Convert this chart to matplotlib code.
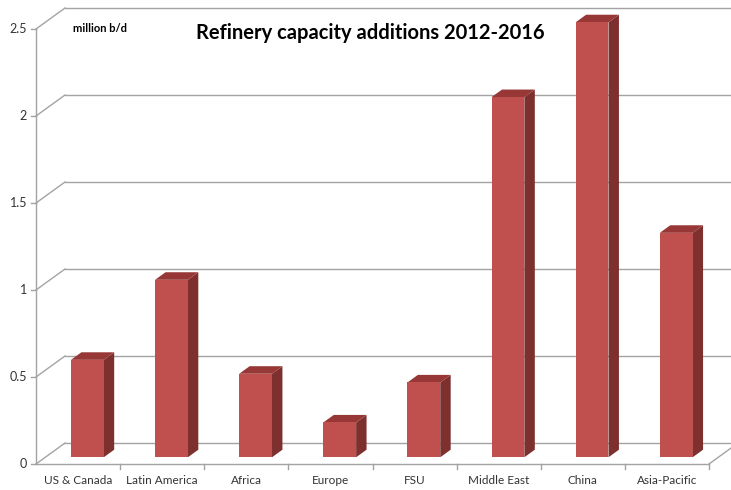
import numpy as np
import matplotlib
matplotlib.use('Agg')
import matplotlib.pyplot as plt
from matplotlib.patches import Polygon

regions = ['US & Canada', 'Latin America', 'Africa', 'Europe', 'FSU',
           'Middle East', 'China', 'Asia-Pacific']
capacity = [0.56, 1.02, 0.48, 0.20, 0.43, 2.07, 2.50, 1.29]
yticks = [0, 0.5, 1, 1.5, 2, 2.5]
ytick_labels = ['0', '0.5', '1', '1.5', '2', '2.5']

plt.rcParams['font.family'] = ['Lato', 'DejaVu Sans']

W, H = 731, 490
fig = plt.figure(figsize=(W / 100, H / 100), dpi=100)
ax_left, ax_right, ax_top, ax_bot = 36, 709, 29, 464
ax = fig.add_axes([ax_left / W, 1 - ax_bot / H, (ax_right - ax_left) / W, (ax_bot - ax_top) / H])
n = len(regions)
ax.set_xlim(0, n)
ax.set_ylim(0, 2.5)
ax.axis('off')

# depth offset of the back wall, in data units
px_x = n / (ax_right - ax_left)
px_y = 2.5 / (ax_bot - ax_top)
DX, DY = 29 * px_x, 21 * px_y

grid_col = '#a3a3a3'
lw = 1.0

# back wall gridlines and left diagonals
for v, lab in zip(yticks, ytick_labels):
    ax.plot([DX, n + DX + 1], [v + DY, v + DY], color=grid_col, lw=lw, clip_on=False)
    ax.plot([0, DX], [v, v + DY], color=grid_col, lw=lw, clip_on=False)
    ax.plot([-5 * px_x, 0], [v, v], color=grid_col, lw=lw, clip_on=False)
    ax.text(-9 * px_x, v, lab, ha='right', va='center', fontsize=9, color='#333333')

# front axis and floor
ax.plot([0, 0], [0, 2.5], color=grid_col, lw=lw, clip_on=False)
ax.plot([0, n], [0, 0], color=grid_col, lw=lw, clip_on=False)
ax.plot([n, n + DX], [0, DY], color=grid_col, lw=lw, clip_on=False)
for i in range(1, n + 1):
    ax.plot([i, i], [0, -5 * px_y], color=grid_col, lw=lw, clip_on=False)

# 3d bars
front_col, side_col, top_col = '#c0504d', '#7d302e', '#973836'
d0, d1 = 0.32, 0.68
bw = 0.39
for i, v in enumerate(capacity):
    x0 = i + 0.5 - bw / 2 + d0 * DX
    x1 = x0 + bw
    y0 = d0 * DY
    y1 = y0 + v
    ex, ey = (d1 - d0) * DX, (d1 - d0) * DY
    ax.add_patch(Polygon([(x1, y0), (x1 + ex, y0 + ey), (x1 + ex, y1 + ey), (x1, y1)],
                         closed=True, fc=side_col, ec='none', clip_on=False, zorder=3))
    ax.add_patch(Polygon([(x0, y1), (x1, y1), (x1 + ex, y1 + ey), (x0 + ex, y1 + ey)],
                         closed=True, fc=top_col, ec='none', clip_on=False, zorder=3))
    ax.add_patch(Polygon([(x0, y0), (x1, y0), (x1, y1), (x0, y1)],
                         closed=True, fc=front_col, ec='none', clip_on=False, zorder=4))
    ax.text(i + 0.5, -16 * px_y, regions[i], ha='center', va='center',
            fontsize=8.5, color='#333333')

fig.text(370 / W, 1 - 33 / H, 'Refinery capacity additions 2012-2016',
         ha='center', va='center', fontsize=14.5, fontweight='bold', color='black')
fig.text(73 / W, 1 - 29 / H, 'million b/d', ha='left', va='center',
         fontsize=8, fontweight='bold', color='black')

fig.savefig('out.png', dpi=100)
